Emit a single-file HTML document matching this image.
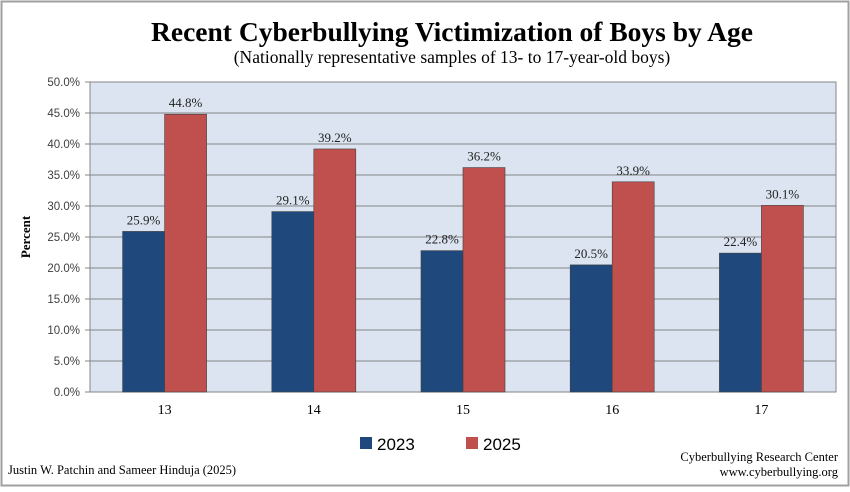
<!DOCTYPE html>
<html><head><meta charset="utf-8"><style>
body{margin:0;width:850px;height:487px;background:#fff;overflow:hidden;font-family:"Liberation Serif",serif}
</style></head><body>
<svg id="c" width="850" height="487" xmlns="http://www.w3.org/2000/svg">
<rect x="1.5" y="1.5" width="847" height="484" fill="#fff" stroke="#a0a0a0" stroke-width="2"/>
<text x="452" y="41" text-anchor="middle" font-size="27.5" font-weight="bold" fill="#000">Recent Cyberbullying Victimization of Boys by Age</text>
<text x="452" y="63" text-anchor="middle" font-size="17.5" fill="#000">(Nationally representative samples of 13- to 17-year-old boys)</text>
<rect x="90" y="82" width="746" height="310" fill="#dbe4f0" stroke="#868686"/>
<g id="grid"></g><g id="bars"></g>
<text transform="translate(30,237) rotate(-90)" text-anchor="middle" font-size="13" font-weight="bold">Percent</text>
<rect x="360" y="437" width="12" height="12" fill="#1f497d"/>
<text x="377" y="450" font-family="Liberation Sans,sans-serif" font-size="17">2023</text>
<rect x="466" y="437" width="12" height="12" fill="#c0504d"/>
<text x="483" y="450" font-family="Liberation Sans,sans-serif" font-size="17">2025</text>
<text x="8" y="474" font-size="12.5">Justin W. Patchin and Sameer Hinduja (2025)</text>
<text x="838" y="461" text-anchor="end" font-size="12.5">Cyberbullying Research Center</text>
<text x="838" y="476" text-anchor="end" font-size="12.5">www.cyberbullying.org</text>
</svg>
<script>
const categories=["13","14","15","16","17"];
const values2023=[25.9,29.1,22.8,20.5,22.4];
const values2025=[44.8,39.2,36.2,33.9,30.1];
const ticks=[0,5,10,15,20,25,30,35,40,45,50];
const NS="http://www.w3.org/2000/svg";
const L=90,R=836,T=82,B=392;
const y=v=>B-(v/50)*(B-T);
const gw=(R-L)/categories.length;
const gx=i=>L+gw*(i+0.5);
const bw=42;
function mk(t,a,p){const e=document.createElementNS(NS,t);for(const k in a)e.setAttribute(k,a[k]);p.appendChild(e);return e;}
const grid=document.getElementById('grid'),bars=document.getElementById('bars');
ticks.forEach(t=>{
 if(t>0&&t<50){const l=mk('line',{x1:L,x2:R,y1:y(t),y2:y(t),stroke:'#868686'},grid);
 
 }
 const k=mk('line',{x1:L-5,x2:L,y1:y(t),y2:y(t),stroke:'#868686'},grid);
 
 
 const tx=mk('text',{x:L-10,y:y(t)+4,'text-anchor':'end','font-size':'11.5','font-family':'Liberation Sans,sans-serif',fill:'#404040'},grid);
 tx.textContent=t.toFixed(1)+'%';
 
 
});
categories.forEach((c,i)=>{
 const cx=gx(i);
 [[values2023[i],'#1f497d',cx-bw,'2023'],[values2025[i],'#c0504d',cx,'2025']].forEach(([v,col,x,s])=>{
  const r=mk('rect',{x:x,y:y(v),width:bw,height:B-y(v),fill:col,stroke:'#404040','stroke-width':0.6},bars);
  
  
  const t=mk('text',{x:x+bw/2,y:y(v)-7,'text-anchor':'middle','font-size':'13',fill:'#222'},bars);
  t.textContent=v.toFixed(1)+'%';
  
  
 });
 const lb=mk('text',{x:cx,y:414,'text-anchor':'middle','font-size':'14'},bars);
 lb.textContent=c;
 
 
});
</script>
</body></html>
